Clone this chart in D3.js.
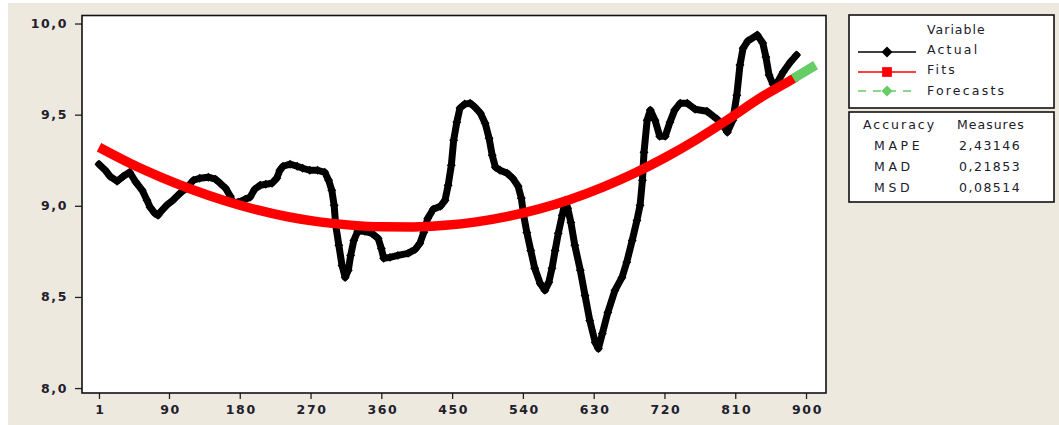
<!DOCTYPE html>
<html>
<head>
<meta charset="utf-8">
<script src="https://cdn.jsdelivr.net/npm/d3@7"></script>
<style>
  html, body { margin: 0; padding: 0; background: #ffffff; }
  svg { display: block; }
  text { font-family: "DejaVu Sans", Verdana, sans-serif; fill: #20202c; }
</style>
</head>
<body>
<svg id="chart" width="1059" height="425"></svg>
<script>
// Trend analysis of the series: actual observations, quadratic-trend fits and forecasts
const actualPeriod = [1, 9, 15, 24, 32, 40, 48, 56, 62, 66, 72, 76, 81, 87, 95, 104, 112, 121, 129, 140,
  149, 155, 162, 168, 171, 178, 187, 193, 199, 206, 213, 221, 227, 231, 235, 244, 253, 260, 269, 279,
  288, 293, 297, 300, 302, 306, 310, 314, 318, 321, 325, 330, 339, 348, 356, 360, 363, 371, 381, 394,
  403, 409, 414, 419, 426, 435, 441, 445, 449, 452, 456, 460, 466, 473, 479, 486, 492, 497, 501, 505,
  511, 520, 527, 534, 538, 541, 545, 550, 555, 562, 568, 573, 577, 581, 585, 590, 594, 597, 601, 606,
  613, 619, 625, 632, 636, 641, 648, 657, 666, 672, 679, 685, 689, 692, 694, 698, 702, 708, 714, 721,
  727, 733, 740, 749, 759, 774, 787, 795, 800, 807, 812, 816, 820, 826, 838, 845, 849, 853, 858, 864,
  871, 880, 888];
const actualValue = [9.228, 9.195, 9.162, 9.135, 9.162, 9.184, 9.129, 9.085, 9.030, 8.992, 8.959, 8.948, 8.975, 9.003, 9.030, 9.069, 9.096, 9.140, 9.151, 9.157,
  9.146, 9.124, 9.096, 9.052, 9.019, 9.019, 9.036, 9.047, 9.091, 9.113, 9.118, 9.124, 9.151, 9.195, 9.217, 9.228, 9.217, 9.206, 9.195, 9.195,
  9.184, 9.140, 9.085, 9.003, 8.893, 8.783, 8.673, 8.607, 8.646, 8.728, 8.810, 8.860, 8.860, 8.849, 8.821, 8.766, 8.712, 8.717, 8.728, 8.739,
  8.761, 8.794, 8.854, 8.931, 8.981, 8.997, 9.030, 9.113, 9.223, 9.360, 9.459, 9.536, 9.558, 9.563, 9.541, 9.508, 9.453, 9.371, 9.277, 9.212,
  9.195, 9.179, 9.151, 9.107, 9.041, 8.948, 8.854, 8.755, 8.657, 8.574, 8.536, 8.580, 8.657, 8.755, 8.849, 8.948, 9.030, 8.986, 8.909, 8.783,
  8.646, 8.508, 8.371, 8.250, 8.217, 8.299, 8.415, 8.536, 8.607, 8.690, 8.810, 8.920, 9.003, 9.140, 9.294, 9.470, 9.525, 9.470, 9.382, 9.382,
  9.459, 9.525, 9.563, 9.563, 9.530, 9.519, 9.475, 9.437, 9.404, 9.470, 9.607, 9.772, 9.865, 9.904, 9.937, 9.893, 9.816, 9.717, 9.668, 9.679,
  9.734, 9.788, 9.827];

const fitPeriod = [1, 41, 81, 121, 161, 201, 241, 281, 321, 361, 401, 441, 481, 521, 561, 601, 641, 681, 721, 761, 801, 841, 881, 888];
const fitValue = [9.321, 9.232, 9.155, 9.087, 9.028, 8.979, 8.940, 8.912, 8.894, 8.885, 8.884, 8.893, 8.912, 8.942, 8.983, 9.036, 9.101, 9.177, 9.265, 9.364, 9.474, 9.590, 9.690, 9.708];

const forecastPeriod = [889, 898, 907];
const forecastValue = [9.712, 9.735, 9.758];

const xTicks = [1, 90, 180, 270, 360, 450, 540, 630, 720, 810, 900];
const yTicks = [8.0, 8.5, 9.0, 9.5, 10.0];

const seriesNames = ["Actual", "Fits", "Forecasts"];
const measureNames = ["MAPE", "MAD", "MSD"];
const measureValues = ["2,43146", "0,21853", "0,08514"];

const W = 1059, H = 425;
const svg = d3.select("#chart");

// window background
svg.append("rect").attr("x", 8).attr("y", 3).attr("width", W - 8).attr("height", H - 3).attr("fill", "#ede9df");

const plot = { left: 82, top: 15.5, right: 826, bottom: 393 };
const x = d3.scaleLinear().domain([-20.6, 925.4]).range([plot.left, plot.right]);
const y = d3.scaleLinear().domain([7.973, 10.044]).range([plot.bottom, plot.top]);

svg.append("rect")
  .attr("x", plot.left).attr("y", plot.top)
  .attr("width", plot.right - plot.left).attr("height", plot.bottom - plot.top)
  .attr("fill", "#ffffff");

const fmt = d => d3.format(".1f")(d).replace(".", ",");

// axes
const gy = svg.append("g").attr("transform", `translate(${plot.left},0)`)
  .call(d3.axisLeft(y).tickValues(yTicks).tickFormat(fmt).tickSize(7).tickPadding(7));
const gx = svg.append("g").attr("transform", `translate(0,${plot.bottom})`)
  .call(d3.axisBottom(x).tickValues(xTicks).tickFormat(d3.format("d")).tickSize(6).tickPadding(6));
[gy, gx].forEach(g => {
  g.select(".domain").remove();
  g.selectAll(".tick line").attr("stroke", "#222").attr("stroke-width", 1.3);
  g.selectAll(".tick text")
    .style("font-family", "'DejaVu Sans', Verdana, sans-serif")
    .style("font-size", "12.5px")
    .style("font-weight", "bold")
    .style("letter-spacing", "1.6px")
    .attr("fill", "#262633");
});
gx.selectAll(".tick text").attr("dx", "1px");

// series
const actual = actualPeriod.map((t, i) => ({ t, v: actualValue[i] }));
const fits = fitPeriod.map((t, i) => ({ t, v: fitValue[i] }));
const forecasts = forecastPeriod.map((t, i) => ({ t, v: forecastValue[i] }));

const line = d3.line().x(d => x(d.t)).y(d => y(d.v));

svg.append("path").datum(actual)
  .attr("d", line)
  .attr("fill", "none").attr("stroke", "#000").attr("stroke-width", 7)
  .attr("stroke-linejoin", "round").attr("stroke-linecap", "round");

const diamond = d3.symbol(d3.symbolSquare, 40);
svg.append("g").selectAll("path").data(actual).join("path")
  .attr("d", diamond)
  .attr("transform", d => `translate(${x(d.t)},${y(d.v)}) rotate(45)`)
  .attr("fill", "#000");

svg.append("path").datum(fits)
  .attr("d", line.curve(d3.curveMonotoneX))
  .attr("fill", "none").attr("stroke", "#ff0000").attr("stroke-width", 9.5)
  .attr("stroke-linecap", "butt");

svg.append("path").datum(forecasts)
  .attr("d", d3.line().x(d => x(d.t)).y(d => y(d.v)))
  .attr("fill", "none").attr("stroke", "#66cc66").attr("stroke-width", 9.5)
  .attr("stroke-linecap", "square");

// plot frame
svg.append("rect")
  .attr("x", plot.left).attr("y", plot.top)
  .attr("width", plot.right - plot.left).attr("height", plot.bottom - plot.top)
  .attr("fill", "none").attr("stroke", "#111").attr("stroke-width", 1.6);

// legend box
const lg = svg.append("g");
lg.append("rect").attr("x", 849).attr("y", 15).attr("width", 205).attr("height", 93)
  .attr("fill", "#fff").attr("stroke", "#111").attr("stroke-width", 1.6);
const legendText = (s, tx, ty, ls) => lg.append("text").attr("x", tx).attr("y", ty)
  .style("font-size", "12.5px").style("letter-spacing", (ls || 2) + "px").text(s);
legendText("Variable", 927, 34, 1.0);

const legendRows = [
  { name: seriesNames[0], ly: 52, ty: 54, color: "#000", dash: null, mark: "diamond" },
  { name: seriesNames[1], ly: 72, ty: 74, color: "#ff0000", dash: null, mark: "square" },
  { name: seriesNames[2], ly: 91, ty: 95, color: "#66cc66", dash: "8,7", mark: "diamond" }
];
legendRows.forEach(r => {
  lg.append("line").attr("x1", 858).attr("x2", 916).attr("y1", r.ly).attr("y2", r.ly)
    .attr("stroke", r.color).attr("stroke-width", 1.5).attr("stroke-dasharray", r.dash);
  if (r.mark === "square") {
    lg.append("path").attr("d", d3.symbol(d3.symbolSquare, 95)())
      .attr("transform", `translate(887,${r.ly})`).attr("fill", r.color);
  } else {
    lg.append("path").attr("d", d3.symbol(d3.symbolSquare, 60)())
      .attr("transform", `translate(887,${r.ly}) rotate(45)`).attr("fill", r.color);
  }
  legendText(r.name, 927, r.ty, 2.2);
});

// accuracy measures box
lg.append("rect").attr("x", 849).attr("y", 112).attr("width", 205).attr("height", 90)
  .attr("fill", "#fff").attr("stroke", "#111").attr("stroke-width", 1.6);
legendText("Accuracy", 863, 129, 2.0);
legendText("Measures", 957, 129, 1.0);
measureNames.forEach((m, i) => {
  legendText(m, 874, 150 + i * 21, 3.6);
  legendText(measureValues[i], 959, 150 + i * 21, 1.5);
});
</script>
</body>
</html>
